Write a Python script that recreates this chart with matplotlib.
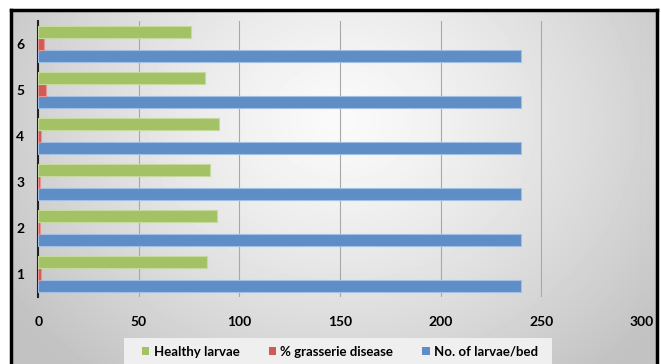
import matplotlib.pyplot as plt
import numpy as np
from matplotlib.patches import Patch, Rectangle

# bed numbers and measured values per bed
beds = ['1', '2', '3', '4', '5', '6']
larvae_per_bed = [240, 240, 240, 240, 240, 240]
grasserie_pct = [1.3, 1.0, 1.0, 1.3, 3.7, 3.0]
healthy_larvae = [84, 89, 85.5, 90, 83, 76]

series_names = ['Healthy larvae', '% grasserie disease', 'No. of larvae/bed']
colors = ['#A3C165', '#D05A57', '#5F8DC5']
edges = ['#C5DA9C', '#E69593', '#A2BFE4']

plt.rcParams['font.family'] = ['Lato', 'DejaVu Sans']

W, H = 661, 364
fig = plt.figure(figsize=(W / 100, H / 100), dpi=100)
fig.patch.set_facecolor('white')

# framed panel with a soft radial grey shading
bg = fig.add_axes([11 / W, 0, (657 - 11) / W, (364 - 10) / H])
yy, xx = np.mgrid[0:354, 0:646]
r = np.sqrt(((xx - 330) / 400.0) ** 2 + ((yy - 110) / 330.0) ** 2)
shade = np.clip(0.98 - 0.22 * r ** 1.3, 0.76, 1.0)
bg.imshow(shade, cmap='gray', vmin=0, vmax=1, aspect='auto', interpolation='bilinear')
bg.set_xticks([])
bg.set_yticks([])
for side in ['left', 'top', 'right']:
    bg.spines[side].set_linewidth(2.5)
    bg.spines[side].set_color('black')
bg.spines['bottom'].set_visible(False)

ax = fig.add_axes([38.3 / W, (364 - 297) / H, 603.4 / W, 276 / H])
ax.patch.set_alpha(0)

y = np.arange(len(beds))
h = 0.26
ax.barh(y - h, larvae_per_bed, height=h, color=colors[2], edgecolor=edges[2], linewidth=0.8, zorder=3)
ax.barh(y, grasserie_pct, height=h, color=colors[1], edgecolor=edges[1], linewidth=0.8, zorder=3)
ax.barh(y + h, healthy_larvae, height=h, color=colors[0], edgecolor=edges[0], linewidth=0.8, zorder=3)

ax.set_xlim(0, 300)
ax.set_ylim(-0.5, len(beds) - 0.5)
ax.set_xticks([0, 50, 100, 150, 200, 250, 300])
ax.set_yticks(y)
ax.set_yticklabels(beds)
ax.grid(axis='x', color='#A8A8A8', linewidth=0.8, zorder=0)
ax.tick_params(length=0, labelsize=10)
ax.tick_params(axis='x', pad=14)
ax.tick_params(axis='y', pad=10)
for lbl in ax.get_xticklabels() + ax.get_yticklabels():
    lbl.set_fontweight('bold')
for side in ['top', 'right', 'bottom']:
    ax.spines[side].set_visible(False)
ax.spines['left'].set_linewidth(1.5)
ax.spines['left'].set_color('#222222')

# legend strip along the bottom edge
fig.patches.append(Rectangle((124 / W, 0), (552 - 124) / W, 26 / H,
                             transform=fig.transFigure, facecolor='#EFEFEF',
                             edgecolor='none', zorder=1))
handles = [Patch(facecolor=c, edgecolor='none') for c in colors]
fig.legend(handles, series_names, loc='center', bbox_to_anchor=(340 / W, 12 / H),
           ncol=3, frameon=False, handlelength=0.55, handleheight=0.55,
           handletextpad=0.35, columnspacing=2.2, borderpad=0,
           prop={'weight': 'bold', 'size': 9.5})

fig.savefig('out.png', dpi=100)
